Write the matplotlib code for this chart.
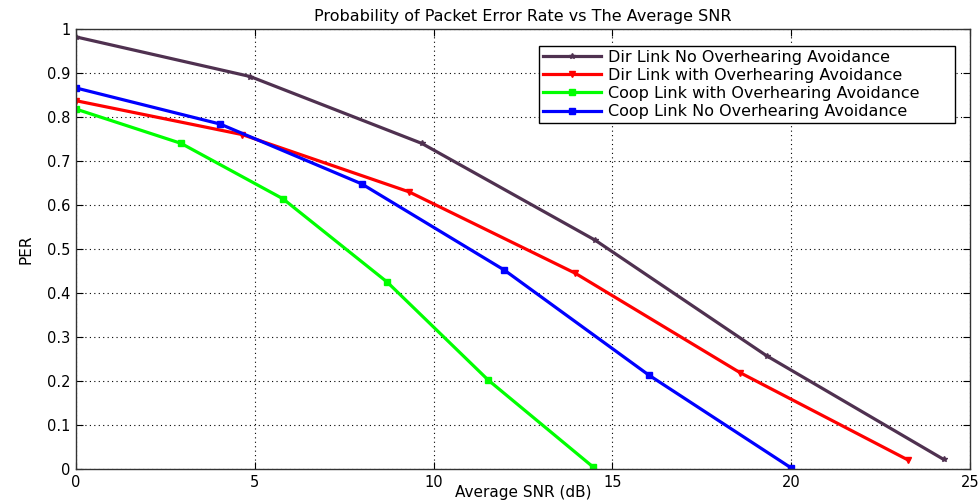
import matplotlib
matplotlib.use("Agg")
import matplotlib.pyplot as plt
from matplotlib.ticker import FixedLocator

plt.rcParams['font.family'] = ['DejaVu Sans']

# data
snr_dir_no = [0, 4.87, 9.67, 14.52, 19.32, 24.26]
per_dir_no = [0.982, 0.892, 0.740, 0.520, 0.257, 0.022]

snr_dir_oa = [0, 4.65, 9.31, 13.96, 18.57, 23.28]
per_dir_oa = [0.837, 0.760, 0.630, 0.445, 0.219, 0.020]

snr_coop_oa = [0, 2.94, 5.79, 8.70, 11.53, 14.47]
per_coop_oa = [0.818, 0.740, 0.614, 0.425, 0.202, 0.004]

snr_coop_no = [0, 4.03, 7.99, 11.98, 16.01, 19.99]
per_coop_no = [0.866, 0.784, 0.648, 0.452, 0.214, 0.003]

labels = ["Dir Link No Overhearing Avoidance",
          "Dir Link with Overhearing Avoidance",
          "Coop Link with Overhearing Avoidance",
          "Coop Link No Overhearing Avoidance"]
xticks = [0, 5, 10, 15, 20, 25]
yticks = [0, 0.1, 0.2, 0.3, 0.4, 0.5, 0.6, 0.7, 0.8, 0.9, 1]
ytick_labels = ["0", "0.1", "0.2", "0.3", "0.4", "0.5", "0.6", "0.7", "0.8", "0.9", "1"]

fig = plt.figure(figsize=(9.79, 5.04), dpi=100)
ax = fig.add_axes([0.0776, 0.0694, 0.9132, 0.8731])

lw = 2.3
ax.plot(snr_dir_no, per_dir_no, color='#4f3150', lw=lw, marker='*', ms=4, label=labels[0])
ax.plot(snr_dir_oa, per_dir_oa, color='#ff0000', lw=lw, marker='v', ms=4, label=labels[1])
ax.plot(snr_coop_oa, per_coop_oa, color='#00ff00', lw=lw, marker='s', ms=5, label=labels[2])
ax.plot(snr_coop_no, per_coop_no, color='#0000ff', lw=lw, marker='s', ms=5, label=labels[3])

ax.set_xlim(0, 25)
ax.set_ylim(0, 1)
ax.xaxis.set_major_locator(FixedLocator(xticks))
ax.set_yticks(yticks)
ax.set_yticklabels(ytick_labels)
ax.tick_params(direction='in', top=True, right=True, labelsize=10.5, length=5, width=0.8, pad=4)
ax.grid(True, linestyle=(0, (1, 3)), color='black', linewidth=0.8)
for s in ax.spines.values():
    s.set_linewidth(1.0)
    s.set_color('#333333')

ax.set_title("Probability of Packet Error Rate vs The Average SNR", fontsize=11.5, pad=6)
ax.set_xlabel("Average SNR (dB)", fontsize=11, labelpad=-3)
ax.set_ylabel("PER", fontsize=11, labelpad=10)

leg = ax.legend(loc='upper left', bbox_to_anchor=(0.518, 0.5, 0.465, 0.462), mode='expand',
                fontsize=11.5, handlelength=3.6, handletextpad=0.45, labelspacing=0.2,
                borderpad=0.25, fancybox=False, framealpha=1, borderaxespad=0)
leg.get_frame().set_edgecolor('black')
leg.get_frame().set_linewidth(1.0)

fig.savefig("out.png", dpi=100)
